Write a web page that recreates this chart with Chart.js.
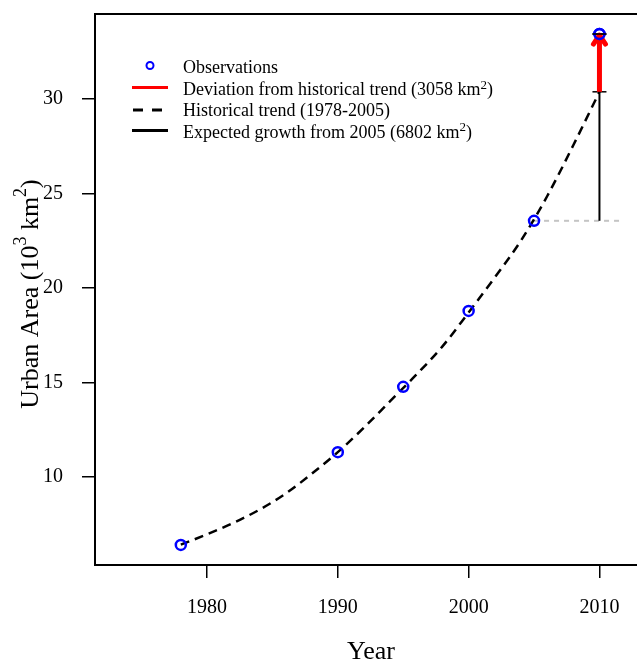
<!DOCTYPE html>
<html>
<head>
<meta charset="utf-8">
<script src="https://cdn.jsdelivr.net/npm/chart.js@4.4.0/dist/chart.umd.min.js"></script>
<style>
  html, body { margin: 0; padding: 0; background: #fff; overflow: hidden; }
  canvas { display: block; }
</style>
</head>
<body>
<canvas id="urban-chart" width="637" height="663"></canvas>
<script>
var serif = '"Liberation Serif", "Times New Roman", serif';

// observations (10^3 km2)
var obsYears = [1978, 1990, 1995, 2000, 2005, 2010];
var obsArea = [6.39, 11.3, 14.76, 18.78, 23.55, 33.44];

// historical trend curve
var trendYears = [1978, 1980, 1982, 1984, 1986, 1988, 1990, 1992, 1994, 1996, 1998, 2000, 2002, 2004, 2006, 2008, 2010];
var trendArea = [6.40, 6.95, 7.55, 8.25, 9.10, 10.15, 11.30, 12.60, 14.00, 15.40, 16.90, 18.70, 20.55, 22.50, 24.85, 27.55, 30.38];

var baseYear = 2005, baseArea = 23.55;
var targetYear = 2010, trendTarget = 30.38, observedTarget = 33.44;
var refLineEnd = 2011.8;

var xTicks = [1980, 1990, 2000, 2010];
var yTicks = [10, 15, 20, 25, 30];

var xTitle = "Year";
var yTitle = "Urban Area (10\u00b3 km\u00b2)";
var legendLabels = [
  "Observations",
  "Deviation from historical trend (3058 km\u00b2)",
  "Historical trend (1978-2005)",
  "Expected growth from 2005 (6802 km\u00b2)"
];

function pts(xs, ys) {
  return xs.map(function (x, i) { return { x: x, y: ys[i] }; });
}

// draws text, with ² and ³ set as real raised digits like R's plotmath
function drawRich(ctx, str, x, y, size, raise, center) {
  var parts = [];
  str.split(/([\u00b2\u00b3])/).forEach(function (p) {
    if (!p) return;
    if (p === "\u00b2") parts.push({ t: "2", sup: true });
    else if (p === "\u00b3") parts.push({ t: "3", sup: true });
    else parts.push({ t: p, sup: false });
  });
  var supSize = Math.round(size * 0.7);
  var widths = parts.map(function (p) {
    ctx.font = (p.sup ? supSize : size) + "px " + serif;
    return ctx.measureText(p.t).width;
  });
  var total = widths.reduce(function (a, b) { return a + b; }, 0);
  var cx = center ? x - total / 2 : x;
  ctx.textAlign = "left";
  ctx.textBaseline = "alphabetic";
  parts.forEach(function (p, i) {
    ctx.font = (p.sup ? supSize : size) + "px " + serif;
    ctx.fillText(p.t, cx, p.sup ? y - size * raise : y);
    cx += widths[i];
  });
}

var extras = {
  id: "extras",
  beforeDatasetsDraw: function (chart) {
    var ctx = chart.ctx, xs = chart.scales.x, ys = chart.scales.y;
    var px = xs.getPixelForValue(targetYear);
    ctx.save();
    ctx.strokeStyle = "#000";
    ctx.lineWidth = 1.5;
    [trendTarget, observedTarget].forEach(function (v) {
      var py = ys.getPixelForValue(v);
      ctx.beginPath();
      ctx.moveTo(px - 7, py);
      ctx.lineTo(px + 7, py);
      ctx.stroke();
    });
    ctx.restore();
  },
  afterDatasetsDraw: function (chart) {
    var ctx = chart.ctx, xs = chart.scales.x, ys = chart.scales.y;
    var px = xs.getPixelForValue(targetYear);
    var tip = ys.getPixelForValue(observedTarget);
    ctx.save();
    // arrow head
    ctx.strokeStyle = "#ff0000";
    ctx.lineWidth = 5;
    ctx.lineCap = "round";
    ctx.lineJoin = "round";
    ctx.beginPath();
    ctx.moveTo(px - 6, tip + 10);
    ctx.lineTo(px, tip + 1);
    ctx.lineTo(px + 6, tip + 10);
    ctx.stroke();
    // 2010 circle back on top
    ctx.lineCap = "butt";
    ctx.strokeStyle = "#0000ff";
    ctx.lineWidth = 2.5;
    ctx.beginPath();
    ctx.arc(px, tip, 5, 0, Math.PI * 2);
    ctx.stroke();
    ctx.strokeStyle = "#000";
    ctx.lineWidth = 1.5;
    ctx.beginPath();
    ctx.moveTo(px - 7, tip);
    ctx.lineTo(px + 7, tip);
    ctx.stroke();
    ctx.restore();
  },
  afterDraw: function (chart) {
    var ctx = chart.ctx, a = chart.chartArea;
    ctx.save();
    // top of the box
    ctx.strokeStyle = "#000";
    ctx.lineWidth = 2;
    ctx.beginPath();
    ctx.moveTo(a.left, a.top);
    ctx.lineTo(a.right, a.top);
    ctx.stroke();

    // axis titles
    ctx.fillStyle = "#000";
    drawRich(ctx, xTitle, 371, 659, 26, 0.45, true);
    ctx.save();
    ctx.translate(38, 294);
    ctx.rotate(-Math.PI / 2);
    drawRich(ctx, yTitle, 0, 0, 26, 0.45, true);
    ctx.restore();

    // legend
    var baselines = [72.5, 95, 115.5, 137.5];
    var marks = [65.5, 87.5, 110, 130.5];
    var x0 = 132, x1 = 168, tx = 183;
    legendLabels.forEach(function (t, i) {
      drawRich(ctx, t, tx, baselines[i], 18, 0.36, false);
    });
    ctx.strokeStyle = "#0000ff";
    ctx.lineWidth = 2;
    ctx.beginPath();
    ctx.arc((x0 + x1) / 2, marks[0], 3.5, 0, Math.PI * 2);
    ctx.stroke();
    ctx.strokeStyle = "#ff0000";
    ctx.lineWidth = 3;
    ctx.beginPath();
    ctx.moveTo(x0, marks[1]);
    ctx.lineTo(x1, marks[1]);
    ctx.stroke();
    ctx.strokeStyle = "#000";
    ctx.lineWidth = 3;
    ctx.setLineDash([10, 9]);
    ctx.beginPath();
    ctx.moveTo(x0 + 1, marks[2]);
    ctx.lineTo(x1, marks[2]);
    ctx.stroke();
    ctx.setLineDash([]);
    ctx.beginPath();
    ctx.moveTo(x0, marks[3]);
    ctx.lineTo(x1, marks[3]);
    ctx.stroke();
    ctx.restore();
  }
};

var config = {
  type: "scatter",
  data: {
    datasets: [
      {
        label: "Observations",
        data: pts(obsYears, obsArea),
        pointRadius: 5,
        pointBorderWidth: 2.5,
        pointBorderColor: "#0000ff",
        pointBackgroundColor: "rgba(0,0,0,0)",
        showLine: false,
      },
      {
        label: "Deviation",
        type: "line",
        data: pts([targetYear, targetYear], [trendTarget, observedTarget]),
        borderColor: "#ff0000",
        borderWidth: 5,
        pointRadius: 0,
      },
      {
        label: "Expected growth",
        type: "line",
        data: pts([targetYear, targetYear], [baseArea, trendTarget]),
        borderColor: "#000",
        borderWidth: 2,
        pointRadius: 0,
      },
      {
        label: "Historical trend",
        type: "line",
        data: pts(trendYears, trendArea),
        borderColor: "#000",
        borderWidth: 2.5,
        borderDash: [9, 6],
        cubicInterpolationMode: "monotone",
        pointRadius: 0,
      },
      {
        label: "2005 level",
        type: "line",
        data: pts([baseYear, refLineEnd], [baseArea, baseArea]),
        borderColor: "#c4c4c4",
        borderWidth: 2,
        borderDash: [5, 5],
        pointRadius: 0,
      },
    ],
  },
  options: {
    responsive: false,
    animation: false,
    layout: { autoPadding: false, padding: { top: 14, right: 0, left: 0, bottom: 0 } },
    plugins: {
      legend: { display: false },
      tooltip: { enabled: false },
    },
    scales: {
      x: {
        type: "linear",
        min: 1971.44,
        max: 2012.87,
        afterBuildTicks: function (s) {
          s.ticks = xTicks.map(function (v) { return { value: v }; });
        },
        afterFit: function (s) {
          s.height = 98;
          s.paddingLeft = 0;
          s.paddingRight = 0;
        },
        grid: { drawOnChartArea: false, tickLength: 13, color: "#000", lineWidth: 1.5 },
        border: { display: true, color: "#000", width: 2 },
        ticks: {
          color: "#000",
          font: { family: serif, size: 20 },
          padding: 18,
          maxRotation: 0,
          callback: function (v) { return String(v); },
        },
      },
      y: {
        type: "linear",
        min: 5.325,
        max: 34.5,
        afterBuildTicks: function (s) {
          s.ticks = yTicks.map(function (v) { return { value: v }; });
        },
        afterFit: function (s) {
          s.width = 95;
          s.paddingTop = 0;
          s.paddingBottom = 0;
        },
        grid: { drawOnChartArea: false, tickLength: 13, color: "#000", lineWidth: 1.5 },
        border: { display: true, color: "#000", width: 2 },
        ticks: {
          color: "#000",
          font: { family: serif, size: 20 },
          padding: 19,
          callback: function (v) { return String(v); },
        },
      },
    },
  },
  plugins: [extras],
};

var urbanChart = new Chart(document.getElementById("urban-chart"), config);
</script>
</body>
</html>
